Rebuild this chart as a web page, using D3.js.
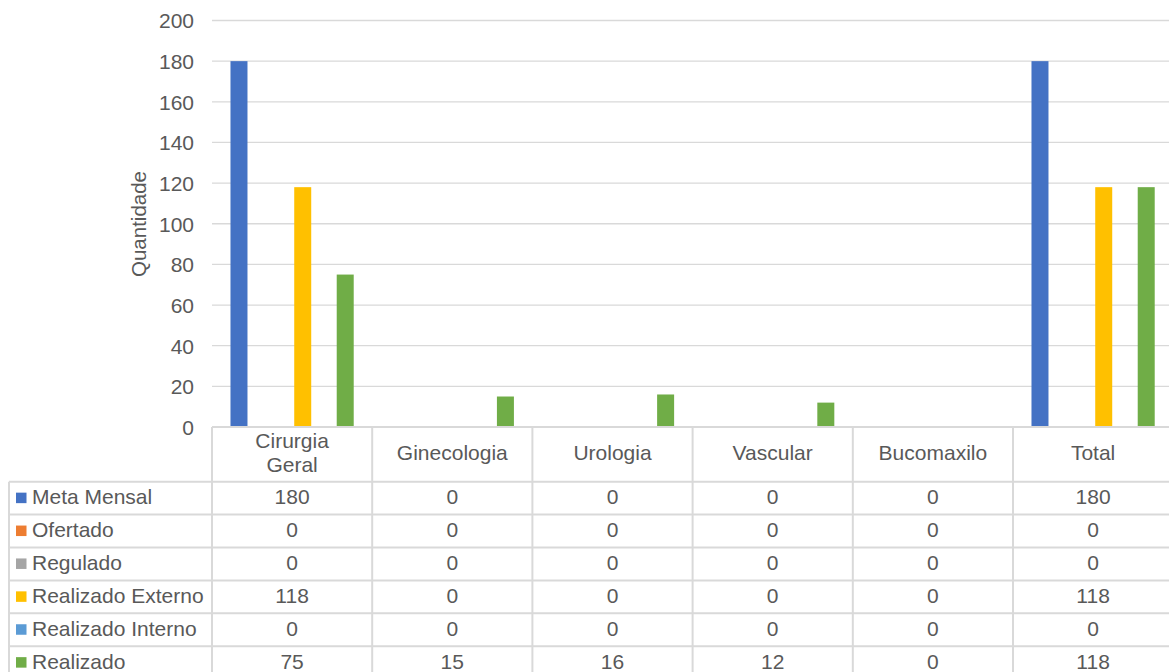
<!DOCTYPE html>
<html><head><meta charset="utf-8">
<script src="https://cdn.jsdelivr.net/npm/d3@7"></script>
<style>body{margin:0;background:#fff}svg{display:block}text{font-family:"Liberation Sans",Arial,sans-serif;fill:#595959}</style>
</head><body><svg id="c" width="1169" height="672"></svg>
<script>
const categories = ["Cirurgia Geral","Ginecologia","Urologia","Vascular","Bucomaxilo","Total"];
const seriesNames = ["Meta Mensal","Ofertado","Regulado","Realizado Externo","Realizado Interno","Realizado"];
const metaMensal = [180,0,0,0,0,180];
const ofertado = [0,0,0,0,0,0];
const regulado = [0,0,0,0,0,0];
const realizadoExterno = [118,0,0,0,0,118];
const realizadoInterno = [0,0,0,0,0,0];
const realizado = [75,15,16,12,0,118];
const yTicks = [0,20,40,60,80,100,120,140,160,180,200];
const colors = ["#4472c4","#ed7d31","#a5a5a5","#ffc000","#5b9bd5","#70ad47"];
const allSeries = [metaMensal,ofertado,regulado,realizadoExterno,realizadoInterno,realizado];

const svg = d3.select("#c");
const fs = 21;
const left = 212, catW = 160.2;
const x = d3.scaleBand().domain(categories).range([left, left + catW*6]).paddingInner(0).paddingOuter(0);
const y = d3.scaleLinear().domain([0,200]).range([427, 20.5]);
const xs = d3.scaleBand().domain(seriesNames).range([0, catW]).paddingInner(0.2).paddingOuter(0.87);

// gridlines
svg.append("g").selectAll("line").data(yTicks.filter(d=>d>0)).join("line")
  .attr("x1", left).attr("x2", 1169).attr("y1", d=>y(d)).attr("y2", d=>y(d))
  .attr("stroke", "#d9d9d9").attr("stroke-width", 1.3);

// y labels
const yAxis = d3.axisLeft(y).tickValues(yTicks).tickSize(0).tickPadding(0);
const ga = svg.append("g").attr("transform", `translate(194,0)`).call(yAxis);
ga.select(".domain").remove();
ga.selectAll("text").attr("font-size", fs).attr("font-family","Liberation Sans, Arial").attr("fill","#595959").attr("dy","0.35em");

svg.append("text").attr("transform","translate(146,224) rotate(-90)").attr("text-anchor","middle")
  .attr("font-size", 20.5).text("Quantidade");

// bars
seriesNames.forEach((s,i)=>{
  svg.append("g").selectAll("rect").data(categories.map((c,j)=>({c,v:allSeries[i][j]}))).join("rect")
    .attr("x", d=>x(d.c)+xs(s)).attr("width", xs.bandwidth())
    .attr("y", d=>y(d.v)).attr("height", d=>y(0)-y(d.v)).attr("fill", colors[i]);
});

// table
const bc = "#d9d9d9", bw = 2;
const rowTop = 481.7, rowH = 32.9, tableLeft = 9;
const right = left + catW*6;
svg.append("line").attr("x1",left).attr("x2",right).attr("y1",427).attr("y2",427).attr("stroke",bc).attr("stroke-width",bw);
const bounds = categories.map(c=>x(c)).concat([right]);
svg.append("g").selectAll("line").data(bounds).join("line")
  .attr("x1",d=>d).attr("x2",d=>d).attr("y1",427).attr("y2",672).attr("stroke",bc).attr("stroke-width",bw);
svg.append("line").attr("x1",tableLeft).attr("x2",tableLeft).attr("y1",rowTop).attr("y2",672).attr("stroke",bc).attr("stroke-width",bw);
svg.append("g").selectAll("line").data(d3.range(7)).join("line")
  .attr("x1",tableLeft).attr("x2",right).attr("y1",d=>rowTop+d*rowH).attr("y2",d=>rowTop+d*rowH)
  .attr("stroke",bc).attr("stroke-width",bw);
categories.forEach(c=>{
  const cx = x(c)+catW/2;
  const t = svg.append("text").attr("text-anchor","middle").attr("font-size",fs);
  if (c==="Cirurgia Geral") {
    t.append("tspan").attr("x",cx).attr("y",448).text("Cirurgia");
    t.append("tspan").attr("x",cx).attr("y",472).text("Geral");
  } else {
    t.attr("x",cx).attr("y",460).text(c);
  }
});
seriesNames.forEach((s,i)=>{
  const cy = rowTop + i*rowH + rowH/2;
  svg.append("rect").attr("x",16).attr("y",cy-5.5).attr("width",10.5).attr("height",10.5).attr("fill",colors[i]);
  svg.append("text").attr("x",32).attr("y",cy).attr("dy","0.3em").attr("font-size",fs).text(s);
  svg.append("g").selectAll("text").data(categories.map((c,j)=>({c,v:allSeries[i][j]}))).join("text")
    .attr("x",d=>x(d.c)+catW/2).attr("y",cy).attr("dy","0.3em").attr("text-anchor","middle").attr("font-size",fs)
    .text(d=>d.v);
});
</script></body></html>
